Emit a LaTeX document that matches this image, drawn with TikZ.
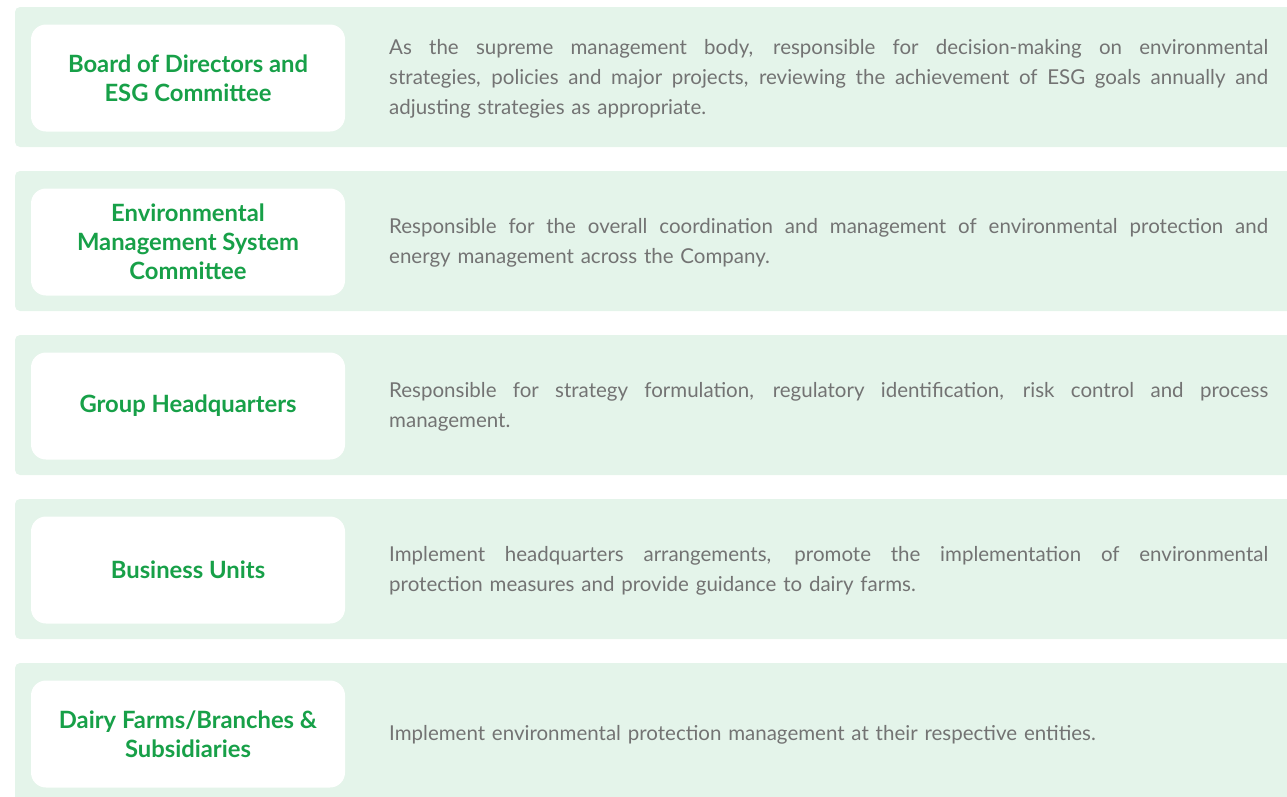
\documentclass[tikz,border=0pt]{standalone}
\usepackage{fontspec}
\setmainfont{Lato}

\definecolor{bandgreen}{HTML}{E4F4EA}
\definecolor{titlegreen}{HTML}{17A048}
\definecolor{descgray}{HTML}{737373}

\tikzset{
  band/.style={fill=bandgreen, rounded corners=5pt},
  titlebox/.style={fill=white, rounded corners=15pt, minimum width=314pt,
    minimum height=107pt, align=center, text=titlegreen,
    font=\fontsize{23.8}{29}\selectfont\bfseries},
  desc/.style={anchor=west, text width=879pt, inner sep=0pt, align=left,
    text=descgray, font=\fontsize{20.5}{30}\selectfont}
}

% one justified line of a description
\newcommand{\jline}[1]{\makebox[879pt][s]{\spaceskip=.3em plus 1fil\relax #1}}

\begin{document}
\begin{tikzpicture}[x=1pt,y=-1pt]

\useasboundingbox (0,0) rectangle (1287,796);
\clip (0,0) rectangle (1287,796);

% Bands
\foreach \t in {7,171,335,499,663}
    \fill[band] (15,\t) rectangle (1300,\t+140);

% Board of Directors
\node[titlebox] (board) at (188,78) {Board of Directors and\\ESG Committee};
\node[desc] (board-desc) at (389,79)
    {\jline{As the supreme management body, responsible for decision-making on environmental}\\
     \jline{strategies, policies and major projects, reviewing the achievement of ESG goals annually and}\\
     adjusting strategies as appropriate.};

% Environmental Management System Committee
\node[titlebox] (emsc) at (188,242)
    {Environmental\\Management System\\Committee};
\node[desc] (emsc-desc) at (389,243)
    {\jline{Responsible for the overall coordination and management of environmental protection and}\\
     energy management across the Company.};

% Group Headquarters
\node[titlebox] (hq) at (188,406) {Group Headquarters};
\node[desc] (hq-desc) at (389,407)
    {\jline{Responsible for strategy formulation, regulatory identification, risk control and process}\\
     management.};

% Business Units
\node[titlebox] (bu) at (188,570) {Business Units};
\node[desc] (bu-desc) at (389,571)
    {\jline{Implement headquarters arrangements, promote the implementation of environmental}\\
     protection measures and provide guidance to dairy farms.};

% Dairy Farms
\node[titlebox] (farms) at (188,734) {Dairy Farms/Branches \&\\Subsidiaries};
\node[desc] (farms-desc) at (389,735)
    {Implement environmental protection management at their respective entities.};

\end{tikzpicture}
\end{document}
